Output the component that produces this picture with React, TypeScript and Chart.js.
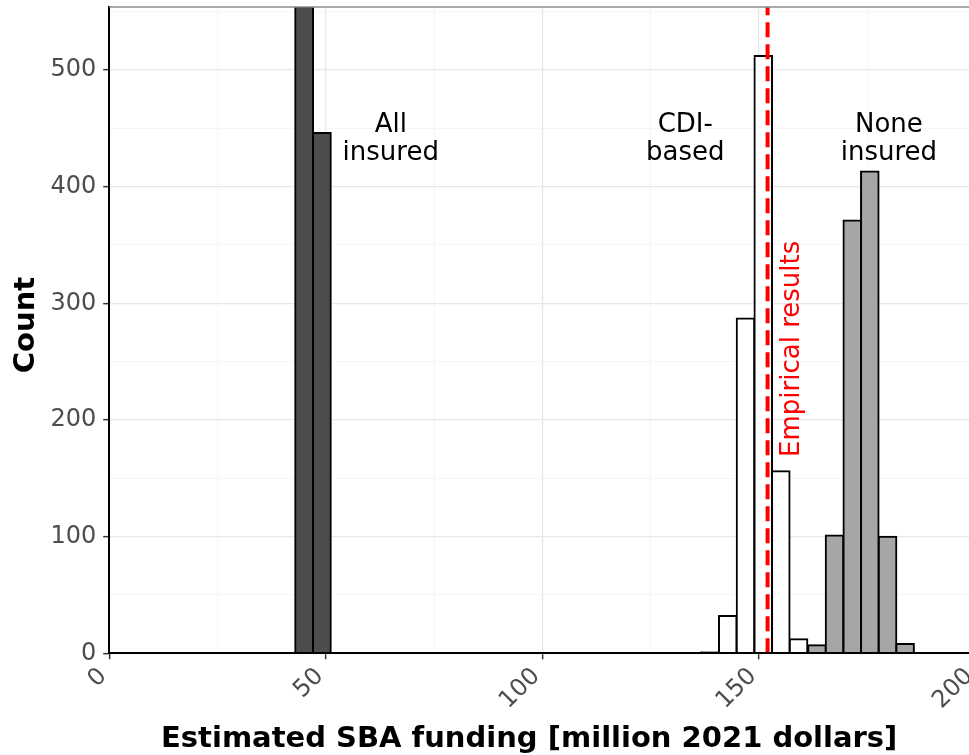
import React, { useEffect, useRef } from "react";
import { Chart, registerables } from "chart.js";

Chart.register(...registerables);

// Histogram bins (bin centres, million 2021 dollars) and counts per scenario
const allInsuredBins = [45.0, 49.1];
const allInsuredCounts = [554, 446];

const cdiBasedBins = [138.75, 142.8, 146.9, 151.0, 155.05, 159.15];
const cdiBasedCounts = [1, 32, 287, 512, 156, 12];

const noneInsuredBins = [163.4, 167.45, 171.55, 175.6, 179.7, 183.75];
const noneInsuredCounts = [7, 101, 371, 413, 100, 8];

// Observed estimate shown as a reference line
const empiricalResult = 152;

// Axis settings
const xMin = 0;
const xMax = 200;
const xStep = 25;
const xLabelStep = 50;
const yMax = 554;
const yStep = 50;
const yLabelStep = 100;

// Text annotations placed in data coordinates
const groupLabels = [
  { lines: ["All", "insured"], x: 65, y: 435 },
  { lines: ["CDI-", "based"], x: 133, y: 435 },
  { lines: ["None", "insured"], x: 180, y: 435 },
];
const empiricalLabel = { text: "Empirical results", x: 159.2, y: 261 };

const xTitle = "Estimated SBA funding [million 2021 dollars]";
const yTitle = "Count";

const FONT = '"DejaVu Sans", sans-serif';

const toPoints = (xs: number[], ys: number[]) =>
  xs.map((x, i) => ({ x, y: ys[i] }));

const annotationPlugin = {
  id: "histAnnotations",
  afterDatasetsDraw(chart: any) {
    const { ctx, scales } = chart;
    const xs = scales.x;
    const ys = scales.y;
    ctx.save();
    ctx.font = `26px ${FONT}`;
    ctx.fillStyle = "#000000";
    ctx.textAlign = "center";
    ctx.textBaseline = "alphabetic";
    const lineGap = 28.5;
    for (const g of groupLabels) {
      const px = xs.getPixelForValue(g.x);
      const py = ys.getPixelForValue(g.y);
      g.lines.forEach((line, i) => {
        const off = (i - (g.lines.length - 1) / 2) * lineGap;
        ctx.fillText(line, px, py + off);
      });
    }
    ctx.fillStyle = "#ff0000";
    ctx.translate(
      xs.getPixelForValue(empiricalLabel.x),
      ys.getPixelForValue(empiricalLabel.y)
    );
    ctx.rotate(-Math.PI / 2);
    ctx.fillText(empiricalLabel.text, 0, 0);
    ctx.restore();
  },
  afterDraw(chart: any) {
    const { ctx, chartArea } = chart;
    ctx.save();
    // panel top edge
    ctx.strokeStyle = "#8c8c8c";
    ctx.lineWidth = 1.5;
    ctx.beginPath();
    ctx.moveTo(chartArea.left, chartArea.top);
    ctx.lineTo(chartArea.right, chartArea.top);
    ctx.stroke();
    // axis titles
    ctx.font = `bold 29px ${FONT}`;
    ctx.fillStyle = "#000000";
    ctx.textAlign = "center";
    ctx.textBaseline = "alphabetic";
    ctx.fillText(xTitle, chartArea.left + 420, chart.height - 8.5);
    ctx.translate(33.5, chartArea.top + 318);
    ctx.rotate(-Math.PI / 2);
    ctx.fillText(yTitle, 0, 0);
    ctx.restore();
  },
};

export default function App() {
  const canvasRef = useRef<HTMLCanvasElement | null>(null);

  useEffect(() => {
    const canvas = canvasRef.current;
    if (!canvas) return;

    const hiddenX = {
      type: "linear",
      min: xMin,
      max: xMax,
      offset: false,
      display: false,
      grid: { offset: false },
    };

    const barStyle = {
      borderColor: "#000000",
      borderWidth: 2,
      inflateAmount: 1,
      barPercentage: 1,
      categoryPercentage: 1,
      grouped: false,
      order: 1,
    };

    const chart = new Chart(canvas, {
      type: "bar",
      data: {
        datasets: [
          {
            ...barStyle,
            label: "All insured",
            xAxisID: "x",
            data: toPoints(allInsuredBins, allInsuredCounts),
            backgroundColor: "#4d4d4d",
          },
          {
            ...barStyle,
            label: "CDI-based",
            xAxisID: "xCdi",
            data: toPoints(cdiBasedBins, cdiBasedCounts),
            backgroundColor: "#ffffff",
          },
          {
            ...barStyle,
            label: "None insured",
            xAxisID: "xNone",
            data: toPoints(noneInsuredBins, noneInsuredCounts),
            backgroundColor: "#a6a6a6",
          },
          {
            type: "line",
            label: "Empirical results",
            xAxisID: "x",
            data: [
              { x: empiricalResult, y: 0 },
              { x: empiricalResult, y: yMax },
            ],
            borderColor: "#ff0000",
            borderWidth: 4,
            borderDash: [15, 7],
            pointRadius: 0,
            order: 0,
          } as any,
        ],
      },
      options: {
        responsive: false,
        animation: false,
        layout: { padding: { top: 7, right: 14.5, left: 0, bottom: 0 } },
        plugins: {
          legend: { display: false },
          tooltip: { enabled: false },
        },
        scales: {
          x: {
            type: "linear",
            position: "bottom",
            min: xMin,
            max: xMax,
            offset: false,
            afterFit: (s: any) => {
              s.height = 101.7;
              s.paddingLeft = 0;
              s.paddingRight = 0;
            },
            grid: {
              offset: false,
              color: (c: any) =>
                c.tick && c.tick.value % xLabelStep === 0 ? "#e8e8e8" : "#f4f4f4",
              lineWidth: (c: any) =>
                c.tick && c.tick.value % xLabelStep === 0 ? 1.3 : 0.8,
              tickColor: (c: any) =>
                c.tick && c.tick.value % xLabelStep === 0 ? "#333333" : "rgba(0,0,0,0)",
              tickLength: 6,
              tickWidth: 1.5,
            },
            border: { display: true, color: "#000000", width: 2, z: 1 },
            ticks: {
              stepSize: xStep,
              autoSkip: false,
              minRotation: 45,
              maxRotation: 45,
              padding: 3,
              labelOffset: -6,
              color: "#4d4d4d",
              font: { family: FONT, size: 24 },
              callback: (v: any) => (Number(v) % xLabelStep === 0 ? String(v) : ""),
            },
          },
          xCdi: { ...hiddenX },
          xNone: { ...hiddenX },
          y: {
            type: "linear",
            min: 0,
            max: yMax,
            afterFit: (s: any) => {
              s.width = 109.2;
              s.paddingTop = 0;
              s.paddingBottom = 0;
            },
            grid: {
              color: (c: any) =>
                c.tick && c.tick.value % yLabelStep === 0 ? "#e8e8e8" : "#f4f4f4",
              lineWidth: (c: any) =>
                c.tick && c.tick.value % yLabelStep === 0 ? 1.3 : 0.8,
              tickColor: (c: any) =>
                c.tick && c.tick.value % yLabelStep === 0 ? "#333333" : "rgba(0,0,0,0)",
              tickLength: 6,
              tickWidth: 1.5,
            },
            border: { display: true, color: "#000000", width: 2, z: 1 },
            ticks: {
              stepSize: yStep,
              includeBounds: false,
              autoSkip: false,
              padding: 7,
              color: "#4d4d4d",
              font: { family: FONT, size: 24 },
              callback: (v: any) => (Number(v) % yLabelStep === 0 ? String(v) : ""),
            },
          },
        },
      } as any,
      plugins: [annotationPlugin],
    });

    return () => chart.destroy();
  }, []);

  return (
    <div
      style={{
        position: "absolute",
        left: 0,
        top: 0,
        width: 969,
        height: 755,
        overflow: "hidden",
        background: "#ffffff",
      }}
    >
      <canvas ref={canvasRef} width={990} height={755} style={{ display: "block" }} />
    </div>
  );
}
